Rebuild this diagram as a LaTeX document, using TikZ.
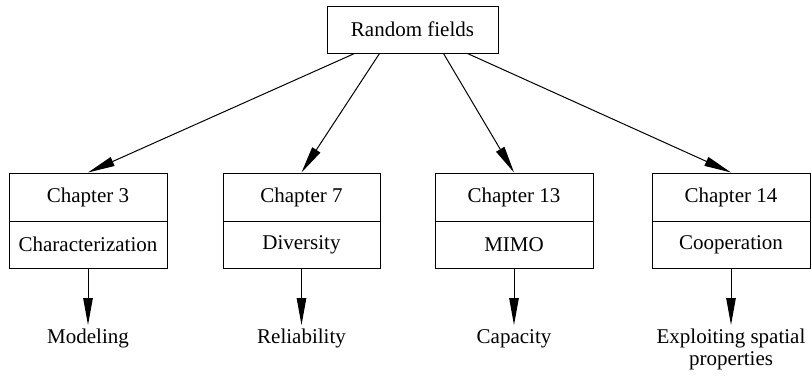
\documentclass[tikz,border=0pt]{standalone}
\usepackage{fontspec}
\setmainfont{Liberation Serif}
\usetikzlibrary{arrows.meta}
\begin{document}
\begin{tikzpicture}[x=1pt,y=-1pt,
  every node/.style={font=\fontsize{21}{22}\selectfont},
  box/.style={draw,line width=1pt,minimum width=158pt,inner sep=0pt},
  upbox/.style={box,minimum height=48pt},
  lowbox/.style={box,minimum height=47pt},
  labbase/.style={inner sep=0pt,anchor=north,align=center},
  lab/.style={labbase,text height=15pt,text depth=5pt},
  arr/.style={line width=1pt,-{Triangle[length=27pt,width=9.5pt]}}
]
\useasboundingbox (0,0) rectangle (811,375);
\node[draw,line width=1pt,minimum width=171pt,minimum height=47pt,inner sep=0pt] (top) at (412.5,29.5) {Random fields};

\node[upbox]  (c3a)  at (88,197)    {Chapter 3};
\node[lowbox] (c3b)  at (88,244.5)  {Characterization};
\node[upbox,minimum width=157pt]  (c7a)  at (301.5,197) {Chapter 7};
\node[lowbox,minimum width=157pt] (c7b)  at (301.5,244.5){Diversity};
\node[upbox]  (c13a) at (514,197)   {Chapter 13};
\node[lowbox] (c13b) at (514,244.5) {MIMO};
\node[upbox]  (c14a) at (731,197)   {Chapter 14};
\node[lowbox] (c14b) at (731,244.5) {Cooperation};

\node[lab] (l3)  at (88,328)    {Modeling};
\node[lab] (l7)  at (301.5,328) {Reliability};
\node[lab] (l13) at (514,328)   {Capacity};
\node[labbase] (l14) at (731,328.5) {Exploiting spatial\\properties};

\draw[arr] ([xshift=28pt]top.south west)  -- (c3a.north);
\draw[arr] ([xshift=53pt]top.south west)  -- (c7a.north);
\draw[arr] ([xshift=117pt]top.south west) -- (c13a.north);
\draw[arr] ([xshift=141pt]top.south west) -- (c14a.north);

\draw[arr,shorten >=3pt] (c3b.south)  -- (l3.north);
\draw[arr,shorten >=3pt] (c7b.south)  -- (l7.north);
\draw[arr,shorten >=3pt] (c13b.south) -- (l13.north);
\draw[arr,shorten >=3.5pt] (c14b.south) -- (l14.north);
\end{tikzpicture}
\end{document}
